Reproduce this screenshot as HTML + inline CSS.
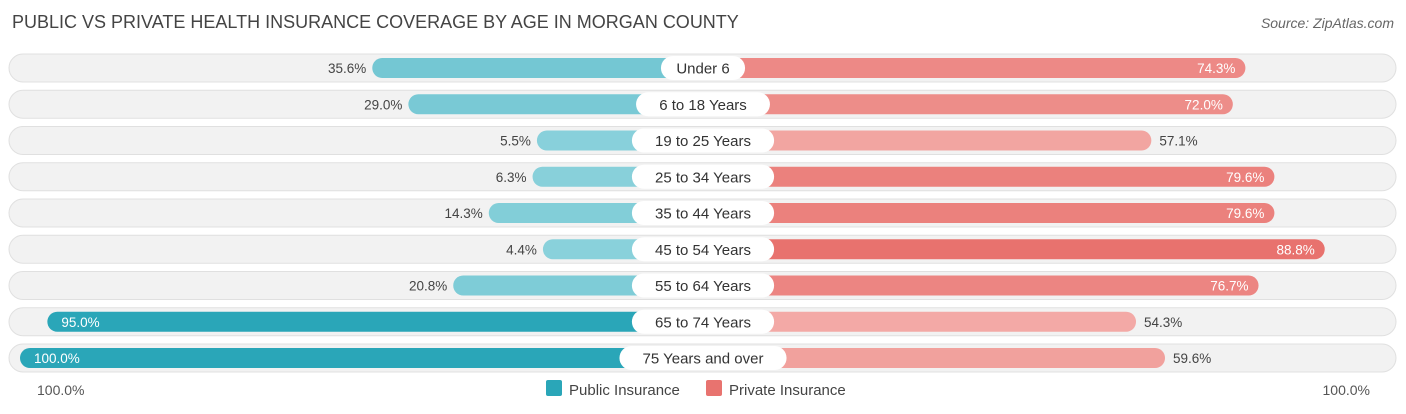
<!DOCTYPE html>
<html><head><meta charset="utf-8"><style>
body{margin:0;background:#fff;font-family:"Liberation Sans",sans-serif;}
#wrap{position:relative;width:1406px;height:414px;overflow:hidden}
</style></head><body><div id="wrap">
<svg id="chart" width="1406" height="414" xmlns="http://www.w3.org/2000/svg">
<text x="12" y="28" font-size="18" fill="#444">PUBLIC VS PRIVATE HEALTH INSURANCE COVERAGE BY AGE IN MORGAN COUNTY</text>
<text x="1394" y="28" font-size="14" fill="#666" font-style="italic" text-anchor="end">Source: ZipAtlas.com</text>
<g id="rows"></g>
<text x="37" y="395" font-size="14" fill="#555">100.0%</text>
<text x="1370" y="395" font-size="14" fill="#555" text-anchor="end">100.0%</text>
<rect x="546" y="380" width="16" height="16" rx="2" fill="#2aa6b8"/>
<text x="569" y="395" font-size="15" fill="#444">Public Insurance</text>
<rect x="706" y="380" width="16" height="16" rx="2" fill="#e8736f"/>
<text x="729" y="395" font-size="15" fill="#444">Private Insurance</text>
</svg></div>
<script>
const categories=["Under 6","6 to 18 Years","19 to 25 Years","25 to 34 Years","35 to 44 Years","45 to 54 Years","55 to 64 Years","65 to 74 Years","75 Years and over"];
const publicValues=[35.6,29.0,5.5,6.3,14.3,4.4,20.8,95.0,100.0];
const privateValues=[74.3,72.0,57.1,79.6,79.6,88.8,76.7,54.3,59.6];
const NS="http://www.w3.org/2000/svg";
const cx=703, base=136, scale=5.47, y0=68, step=36.25;
function w(v){return base+v*scale;}
function mix(a,b,t){return "rgb("+a.map((x,i)=>Math.round(x+(b[i]-x)*t)).join(",")+")";}
function mk(tag,attrs,parent){const e=document.createElementNS(NS,tag);for(const k in attrs)e.setAttribute(k,attrs[k]);parent.appendChild(e);return e;}
const g=document.getElementById("rows");
categories.forEach((c,i)=>{
  const y=y0+i*step;
  const row=mk("g",{},g);
  
  
  const bg=mk("rect",{x:9,y:y-14,width:1387,height:28,rx:14,fill:"#f2f2f2",stroke:"#e0e0e0","stroke-width":1},row);
  
  
  const pv=publicValues[i], qv=privateValues[i];
  const pw=w(pv), qw=w(qv);
  const tp=Math.min(1,Math.max(0,(pv-0)/60));
  const tq=Math.min(1,Math.max(0,(qv-50)/40));
  const pb=mk("rect",{x:cx-pw,y:y-10,width:pw,height:20,rx:10,fill:pv>50?"#2aa6b8":mix([140,210,220],[100,192,205],tp)},row);
  
  
  const qb=mk("rect",{x:cx,y:y-10,width:qw,height:20,rx:10,fill:mix([244,176,173],[232,112,108],tq)},row);
  
  
  const pin=pv>50;
  const pt=mk("text",{x:pin?cx-pw+14:cx-pw-6,y:y+5,"font-size":13.5,fill:pin?"#fff":"#444","text-anchor":pin?"start":"end"},row);
  pt.textContent=pv.toFixed(1)+"%";
  
  
  const qin=qv>70;
  const qt=mk("text",{x:qin?cx+qw-10:cx+qw+8,y:y+5,"font-size":13.5,fill:qin?"#fff":"#444","text-anchor":qin?"end":"start"},row);
  qt.textContent=qv.toFixed(1)+"%";
  
  
  const lw=c.length*8.3+26;
  const lb=mk("rect",{x:cx-lw/2,y:y-12,width:lw,height:24,rx:12,fill:"#fff"},row);
  
  
  const lt=mk("text",{x:cx,y:y+5.5,"font-size":15,fill:"#333","text-anchor":"middle"},row);
  lt.textContent=c;
  
  
});
</script></body></html>
